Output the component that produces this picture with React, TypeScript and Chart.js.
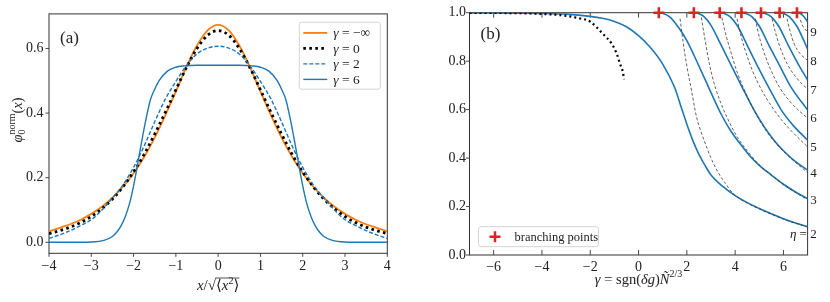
import React, { useEffect, useRef } from "react";
import { Chart, registerables } from "chart.js";

Chart.register(...registerables);

const FONT = '"Liberation Serif", "DejaVu Serif", serif';
const TXT = "#222";
const SPINE = "#333";
const BLUE = "#1f77b4";
const ORANGE = "#ff7f0e";
const RED = "#d62728";
const TICK_SIZE = 14;

// ---------------- panel (a) data ----------------
const profileX = [-4, -3.75, -3.5, -3.25, -3, -2.75, -2.5, -2.25, -2, -1.75, -1.5, -1.25, -1, -0.75, -0.5, -0.25, 0, 0.25, 0.5, 0.75, 1, 1.25, 1.5, 1.75, 2, 2.25, 2.5, 2.75, 3, 3.25, 3.5, 3.75, 4];
const phiGammaMinusInf = [0.034, 0.045, 0.056, 0.07, 0.088, 0.11, 0.138, 0.172, 0.214, 0.264, 0.324, 0.393, 0.467, 0.543, 0.609, 0.656, 0.673, 0.656, 0.609, 0.543, 0.467, 0.393, 0.324, 0.264, 0.214, 0.172, 0.138, 0.11, 0.088, 0.07, 0.056, 0.045, 0.034];
const phiGamma0 = [0.027, 0.036, 0.047, 0.061, 0.08, 0.104, 0.134, 0.172, 0.218, 0.272, 0.335, 0.402, 0.472, 0.541, 0.6, 0.641, 0.655, 0.641, 0.6, 0.541, 0.472, 0.402, 0.335, 0.272, 0.218, 0.172, 0.134, 0.104, 0.08, 0.061, 0.047, 0.036, 0.027];
const phiGamma2 = [0.012, 0.023, 0.036, 0.052, 0.07, 0.1, 0.137, 0.178, 0.232, 0.298, 0.373, 0.443, 0.498, 0.547, 0.583, 0.601, 0.607, 0.601, 0.583, 0.547, 0.498, 0.443, 0.373, 0.298, 0.232, 0.178, 0.137, 0.1, 0.07, 0.052, 0.036, 0.023, 0.012];
const flatTopX = [-4, -3.5, -3, -2.7, -2.5, -2.4, -2.3, -2.2, -2.1, -2, -1.9, -1.8, -1.7, -1.6, -1.5, -1.4, -1.2, -1, -0.8, -0.5, 0, 0.5, 0.8, 1, 1.2, 1.4, 1.5, 1.6, 1.7, 1.8, 1.9, 2, 2.1, 2.2, 2.3, 2.4, 2.5, 2.7, 3, 3.5, 4];
const phiGamma6 = [0, 0, 0.001, 0.006, 0.018, 0.031, 0.05, 0.078, 0.118, 0.175, 0.245, 0.318, 0.385, 0.442, 0.474, 0.5, 0.53, 0.542, 0.546, 0.548, 0.548, 0.548, 0.546, 0.542, 0.53, 0.5, 0.474, 0.442, 0.385, 0.318, 0.245, 0.175, 0.118, 0.078, 0.05, 0.031, 0.018, 0.006, 0.001, 0, 0];
const panelAXTicks = [-4, -3, -2, -1, 0, 1, 2, 3, 4];
const panelAYTicks = [0, 0.2, 0.4, 0.6];
const panelALegend = ["\u2212\u221e", "0", "2", "6"];

// ---------------- panel (b) data ----------------
const eta2X = [-7, -6, -5, -4, -3, -2, -1.5, -1, -0.5, 0, 0.5, 1, 1.5, 1.75, 2, 2.25, 2.5, 2.75, 3, 3.5, 4, 4.5, 5, 5.5, 6, 6.5, 7];
const eta2Y = [0.999, 0.999, 0.998, 0.997, 0.994, 0.985, 0.977, 0.964, 0.942, 0.905, 0.855, 0.788, 0.69, 0.615, 0.54, 0.472, 0.415, 0.37, 0.33, 0.282, 0.245, 0.216, 0.192, 0.17, 0.15, 0.132, 0.117];
const eta3X = [0.84, 1, 1.3, 1.65, 2, 2.5, 3, 3.4, 3.8, 4.2, 4.6, 5, 5.5, 6, 6.5, 7];
const eta3Y = [1, 0.997, 0.982, 0.94, 0.885, 0.78, 0.67, 0.585, 0.515, 0.46, 0.41, 0.37, 0.33, 0.292, 0.26, 0.232];
const eta4X = [2.29, 2.5, 2.7, 3, 3.4, 3.8, 4.3, 4.8, 5.2, 5.6, 6, 6.5, 7];
const eta4Y = [1, 0.996, 0.985, 0.948, 0.87, 0.79, 0.69, 0.595, 0.53, 0.475, 0.43, 0.385, 0.35];
const eta5X = [3.36, 3.6, 3.8, 4.1, 4.5, 4.9, 5.4, 5.9, 6.4, 7];
const eta5Y = [1, 0.995, 0.983, 0.945, 0.865, 0.785, 0.69, 0.6, 0.535, 0.474];
const eta6X = [4.26, 4.5, 4.7, 5, 5.4, 5.8, 6.3, 7];
const eta6Y = [1, 0.995, 0.983, 0.945, 0.865, 0.79, 0.695, 0.598];
const eta7X = [5.07, 5.3, 5.5, 5.8, 6.2, 6.6, 7];
const eta7Y = [1, 0.995, 0.983, 0.945, 0.865, 0.79, 0.722];
const eta8X = [5.84, 6.05, 6.25, 6.55, 6.8, 7];
const eta8Y = [1, 0.995, 0.983, 0.945, 0.895, 0.849];
const eta9X = [6.56, 6.7, 6.85, 7];
const eta9Y = [1, 0.996, 0.983, 0.963];

const asym2X = [1.72, 1.85, 2, 2.2, 2.4, 2.6, 2.8, 3, 3.3, 3.6, 3.9, 4.5, 5, 5.5, 6, 6.5, 7];
const asym2Y = [0.975, 0.875, 0.78, 0.675, 0.57, 0.505, 0.45, 0.4, 0.34, 0.295, 0.255, 0.214, 0.19, 0.168, 0.148, 0.131, 0.116];
const asym3X = [2.6, 2.75, 2.95, 3.2, 3.5, 3.8, 4.1, 4.5, 5, 5.5, 6, 6.5, 7];
const asym3Y = [0.98, 0.89, 0.78, 0.685, 0.605, 0.54, 0.485, 0.43, 0.372, 0.33, 0.29, 0.258, 0.229];
const asym4X = [3.45, 3.6, 3.8, 4.1, 4.5, 4.9, 5.3, 5.7, 6.1, 6.5, 7];
const asym4Y = [0.98, 0.915, 0.845, 0.75, 0.655, 0.575, 0.51, 0.46, 0.418, 0.382, 0.34];
const asym5X = [4.08, 4.2, 4.4, 4.7, 5.1, 5.5, 5.9, 6.3, 6.7, 7];
const asym5Y = [0.975, 0.92, 0.85, 0.765, 0.68, 0.615, 0.56, 0.515, 0.475, 0.446];
const asym6X = [4.84, 4.95, 5.15, 5.45, 5.85, 6.3, 6.65, 7];
const asym6Y = [0.975, 0.92, 0.85, 0.77, 0.69, 0.63, 0.595, 0.565];
const asym7X = [5.53, 5.65, 5.85, 6.15, 6.55, 7];
const asym7Y = [0.975, 0.925, 0.86, 0.79, 0.73, 0.684];
const asym8X = [6.15, 6.27, 6.45, 6.7, 7];
const asym8Y = [0.975, 0.925, 0.87, 0.83, 0.803];
const asym9X = [6.7, 6.8, 7];
const asym9Y = [0.97, 0.945, 0.921];

const meanFieldX = [-7, -6, -5, -4, -3.25, -2.5, -2, -1.5, -1.1, -0.9, -0.77, -0.65, -0.6];
const meanFieldY = [0.9995, 0.999, 0.998, 0.995, 0.99, 0.978, 0.963, 0.915, 0.87, 0.83, 0.79, 0.755, 0.725];

const branchX = [0.84, 2.29, 3.36, 4.26, 5.07, 5.84, 6.56];
const branchY = [1, 1, 1, 1, 1, 1, 1];

const etaLabelValues = [0.087, 0.227, 0.338, 0.445, 0.565, 0.684, 0.803, 0.923];
const etaLabels = ["2", "3", "4", "5", "6", "7", "8", "9"];

const panelBXTicks = [-6, -4, -2, 0, 2, 4, 6];
const panelBYTicks = [0, 0.2, 0.4, 0.6, 0.8, 1.0];

const etaCurves = [
  [eta2X, eta2Y], [eta3X, eta3Y], [eta4X, eta4Y], [eta5X, eta5Y],
  [eta6X, eta6Y], [eta7X, eta7Y], [eta8X, eta8Y], [eta9X, eta9Y],
];
const asymCurves = [
  [asym2X, asym2Y], [asym3X, asym3Y], [asym4X, asym4Y], [asym5X, asym5Y],
  [asym6X, asym6Y], [asym7X, asym7Y], [asym8X, asym8Y], [asym9X, asym9Y],
];

// ---------------- styles ----------------
const styleA = [
  { color: ORANGE, w: 1.8, dash: [] as number[] },
  { color: "#000", w: 2.8, dash: [2.6, 3.4] },
  { color: BLUE, w: 1.4, dash: [4, 2] },
  { color: BLUE, w: 1.4, dash: [] as number[] },
];

// ---------------- helpers ----------------
type Seg = { t: string; it?: boolean; sz?: number; dy?: number; back?: boolean; over?: boolean; sqrt?: boolean };

function segFont(s: Seg, base: number) {
  return `${s.it ? "italic " : ""}${s.sz ?? base}px ${FONT}`;
}

function drawRich(ctx: CanvasRenderingContext2D, segs: Seg[], x: number, y: number, base: number, align: "left" | "center" | "right", color = TXT) {
  const placed: { s: Seg; x: number; w: number; asc: number }[] = [];
  let cur = 0;
  let prevStart = 0;
  for (const s of segs) {
    ctx.font = segFont(s, base);
    const m = ctx.measureText(s.t);
    const sx = s.back ? prevStart : cur;
    placed.push({ s, x: sx, w: m.width, asc: m.actualBoundingBoxAscent });
    if (!s.back) prevStart = sx;
    cur = Math.max(cur, sx + m.width);
  }
  const x0 = align === "left" ? x : align === "center" ? x - cur / 2 : x - cur;
  ctx.fillStyle = color;
  ctx.textAlign = "left";
  ctx.textBaseline = "alphabetic";
  let ox1 = Infinity;
  let ox2 = -Infinity;
  let oy = y - base * 0.9;
  for (const p of placed) {
    ctx.font = segFont(p.s, base);
    ctx.fillText(p.s.t, x0 + p.x, y + (p.s.dy ?? 0));
    if (p.s.sqrt) {
      oy = y - p.asc + 0.5;
      ox1 = Math.min(ox1, x0 + p.x + p.w - 0.6);
    }
    if (p.s.over) {
      ox1 = Math.min(ox1, x0 + p.x);
      ox2 = Math.max(ox2, x0 + p.x + p.w);
    }
  }
  if (ox1 < ox2) {
    ctx.save();
    ctx.strokeStyle = color;
    ctx.lineWidth = 0.8;
    ctx.beginPath();
    ctx.moveTo(ox1, oy);
    ctx.lineTo(ox2, oy);
    ctx.stroke();
    ctx.restore();
  }
}

function pts(xs: number[], ys: number[]) {
  return xs.map((x, i) => ({ x, y: ys[i] }));
}

const fmtTick = (v: number, d: number) => {
  const s = Math.abs(v).toFixed(d);
  return v < 0 ? "\u2212" + s : s;
};

function fixedTicks(values: number[]) {
  return (ax: any) => {
    ax.ticks = values.map((v) => ({ value: v }));
  };
}

function scaleOpts(min: number, max: number, ticks: number[], dec: number, pad: number, fit: (ax: any) => void) {
  return {
    type: "linear" as const,
    min,
    max,
    grid: { display: false, drawTicks: false },
    border: { display: false },
    afterBuildTicks: fixedTicks(ticks),
    afterFit: fit,
    ticks: {
      autoSkip: false,
      maxRotation: 0,
      padding: pad,
      color: TXT,
      font: { family: FONT, size: TICK_SIZE },
      callback: (v: any) => fmtTick(Number(v), dec),
    },
  };
}

function drawFrame(chart: any, xt: number[], yt: number[], inwardX: boolean) {
  const { ctx, chartArea: a, scales } = chart;
  ctx.save();
  ctx.strokeStyle = SPINE;
  ctx.lineWidth = 1;
  ctx.strokeRect(a.left, a.top, a.right - a.left, a.bottom - a.top);
  ctx.lineWidth = 0.9;
  ctx.beginPath();
  for (const v of xt) {
    const px = scales.x.getPixelForValue(v);
    if (inwardX) {
      ctx.moveTo(px, a.bottom);
      ctx.lineTo(px, a.bottom - 5);
      ctx.moveTo(px, a.top);
      ctx.lineTo(px, a.top + 5);
    } else {
      ctx.moveTo(px, a.bottom);
      ctx.lineTo(px, a.bottom + 3.5);
    }
  }
  for (const v of yt) {
    const py = scales.y.getPixelForValue(v);
    ctx.moveTo(a.left, py);
    ctx.lineTo(a.left - 3.5, py);
  }
  ctx.stroke();
  ctx.restore();
}

// ---------------- plugins ----------------
const decorA = {
  id: "decorA",
  beforeDatasetsDraw(chart: any) {
    drawFrame(chart, panelAXTicks, panelAYTicks, false);
  },
  afterDraw(chart: any) {
    const { ctx, chartArea: a } = chart;
    ctx.save();
    drawRich(ctx, [{ t: "(a)" }], a.left + 11, a.top + 29, 17, "left");
    // legend
    const bw = 81;
    const bh = 67;
    const bx = a.right - bw - 7;
    const by = a.top + 8.3;
    ctx.fillStyle = "rgba(255,255,255,0.8)";
    ctx.strokeStyle = "#d4d4d4";
    ctx.lineWidth = 1;
    ctx.beginPath();
    (ctx as any).roundRect(bx, by, bw, bh, 2.5);
    ctx.fill();
    ctx.stroke();
    for (let i = 0; i < 4; i++) {
      const y = by + 10.7 + i * 15.5;
      const st = styleA[i];
      ctx.strokeStyle = st.color;
      ctx.lineWidth = st.w;
      ctx.setLineDash(st.dash);
      ctx.beginPath();
      ctx.moveTo(bx + 4, y);
      ctx.lineTo(bx + 28, y);
      ctx.stroke();
      ctx.setLineDash([]);
      drawRich(ctx, [{ t: "\u03b3", it: true }, { t: " = " + panelALegend[i] }], bx + 34, y + 4.5, 13.5, "left");
    }
    // x title
    drawRich(
      ctx,
      [
        { t: "x", it: true },
        { t: "/" },
        { t: "\u221a", sqrt: true },
        { t: "\u27e8", over: true },
        { t: "x", it: true, over: true },
        { t: "2", sz: 10, dy: -6, over: true },
        { t: "\u27e9", over: true },
      ],
      (a.left + a.right) / 2,
      289.5,
      15,
      "center"
    );
    // y title
    ctx.translate(21.5, 120);
    ctx.rotate(-Math.PI / 2);
    drawRich(
      ctx,
      [
        { t: "\u03c6", it: true },
        { t: "0", sz: 10, dy: 3.5 },
        { t: "norm", sz: 10, dy: -7, back: true },
        { t: "(" },
        { t: "x", it: true },
        { t: ")" },
      ],
      0,
      0,
      14.5,
      "center"
    );
    ctx.restore();
  },
};

const decorB = {
  id: "decorB",
  beforeDatasetsDraw(chart: any) {
    drawFrame(chart, panelBXTicks, panelBYTicks, true);
  },
  afterDraw(chart: any) {
    const { ctx, chartArea: a, scales } = chart;
    ctx.save();
    drawRich(ctx, [{ t: "(b)" }], a.left + 11, a.top + 26, 17, "left");
    // legend
    const bx = a.left + 9;
    const by = a.bottom - 28.3;
    ctx.fillStyle = "rgba(255,255,255,0.8)";
    ctx.strokeStyle = "#d4d4d4";
    ctx.lineWidth = 1;
    ctx.beginPath();
    (ctx as any).roundRect(bx, by, 120, 20, 2.5);
    ctx.fill();
    ctx.stroke();
    const cx = bx + 16.5;
    const cy = by + 10;
    ctx.strokeStyle = RED;
    ctx.lineWidth = 2.5;
    ctx.beginPath();
    ctx.moveTo(cx - 5.5, cy);
    ctx.lineTo(cx + 5.5, cy);
    ctx.moveTo(cx, cy - 5.5);
    ctx.lineTo(cx, cy + 5.5);
    ctx.stroke();
    drawRich(ctx, [{ t: "branching points" }], bx + 36, cy + 4, 12.5, "left");
    // eta labels
    for (let i = 0; i < etaLabels.length; i++) {
      const py = scales.y.getPixelForValue(etaLabelValues[i]);
      drawRich(ctx, [{ t: etaLabels[i] }], a.right + 2.6, py + 4.3, 13, "left");
      if (i === 0) {
        drawRich(ctx, [{ t: "\u03b7", it: true }, { t: " = " }], a.right + 2.6, py + 4.3, 13, "right");
      }
    }
    // x title
    drawRich(
      ctx,
      [
        { t: "\u03b3", it: true },
        { t: " = sgn(" },
        { t: "\u03b4g", it: true },
        { t: ")" },
        { t: "\u00d1", it: true },
        { t: "2/3", sz: 10, dy: -6.5 },
      ],
      (a.left + a.right) / 2,
      283.5,
      14.5,
      "center"
    );
    // y title
    ctx.translate(446.5, 146);
    ctx.rotate(-Math.PI / 2);
    drawRich(
      ctx,
      [{ t: "\u03c9", it: true }, { t: "/|" }, { t: "\u03bc", it: true }, { t: "|" }],
      0,
      0,
      14.5,
      "center"
    );
    ctx.restore();
  },
};

// ---------------- configs ----------------
function lineDs(data: any[], color: string, w: number, dash: number[], extra: any = {}) {
  return {
    data,
    showLine: true,
    borderColor: color,
    backgroundColor: color,
    borderWidth: w,
    borderDash: dash,
    pointRadius: 0,
    pointHoverRadius: 0,
    fill: false,
    cubicInterpolationMode: "monotone",
    ...extra,
  };
}

function makeConfigA(): any {
  return {
    type: "scatter",
    data: {
      datasets: [
        lineDs(pts(flatTopX, phiGamma6), styleA[3].color, styleA[3].w, styleA[3].dash),
        lineDs(pts(profileX, phiGamma2), styleA[2].color, styleA[2].w, styleA[2].dash),
        lineDs(pts(profileX, phiGamma0), styleA[1].color, styleA[1].w, styleA[1].dash),
        lineDs(pts(profileX, phiGammaMinusInf), styleA[0].color, styleA[0].w, styleA[0].dash),
      ],
    },
    options: {
      responsive: false,
      maintainAspectRatio: false,
      animation: false,
      devicePixelRatio: 1,
      events: [],
      layout: { padding: { left: 0, top: 11.7, right: 32.7, bottom: 0 } },
      plugins: { legend: { display: false }, tooltip: { enabled: false } },
      scales: {
        x: scaleOpts(-4, 4, panelAXTicks, 0, 4.6, (ax: any) => { ax.height = 48.7; }),
        y: scaleOpts(-0.034, 0.707, panelAYTicks, 1, 5.5, (ax: any) => { ax.width = 49; }),
      },
    },
    plugins: [decorA],
  };
}

function makeConfigB(): any {
  const datasets: any[] = [];
  datasets.push({
    data: pts(branchX, branchY),
    showLine: false,
    pointStyle: "cross",
    pointRadius: 5.5,
    pointHoverRadius: 5.5,
    pointBorderWidth: 2.6,
    pointBorderColor: RED,
    pointBackgroundColor: RED,
    clip: false,
  });
  datasets.push(lineDs(pts(meanFieldX, meanFieldY), "#000", 2.2, [2, 3]));
  for (const [xs, ys] of asymCurves) datasets.push(lineDs(pts(xs, ys), "#3a3a3a", 0.8, [3, 2]));
  for (const [xs, ys] of etaCurves) datasets.push(lineDs(pts(xs, ys), BLUE, 1.6, []));
  return {
    type: "scatter",
    data: { datasets },
    options: {
      responsive: false,
      maintainAspectRatio: false,
      animation: false,
      devicePixelRatio: 1,
      events: [],
      layout: { padding: { left: 0, top: 12.7, right: 22.4, bottom: 0 } },
      plugins: { legend: { display: false }, tooltip: { enabled: false } },
      scales: {
        x: scaleOpts(-7, 7, panelBXTicks, 0, 3.8, (ax: any) => { ax.height = 47; }),
        y: scaleOpts(0, 1, panelBYTicks, 1, 3.5, (ax: any) => { ax.width = 49.5; }),
      },
    },
    plugins: [decorB],
  };
}

export default function App() {
  const refA = useRef<HTMLCanvasElement>(null);
  const refB = useRef<HTMLCanvasElement>(null);
  useEffect(() => {
    const ca = new Chart(refA.current as HTMLCanvasElement, makeConfigA());
    const cb = new Chart(refB.current as HTMLCanvasElement, makeConfigB());
    return () => {
      ca.destroy();
      cb.destroy();
    };
  }, []);
  return (
    <div style={{ position: "absolute", left: 0, top: 0, width: 830, height: 302, background: "#fff" }}>
      <canvas ref={refA} width={420} height={302} style={{ position: "absolute", left: 0, top: 0 }} />
      <canvas ref={refB} width={410} height={302} style={{ position: "absolute", left: 420, top: 0 }} />
    </div>
  );
}
